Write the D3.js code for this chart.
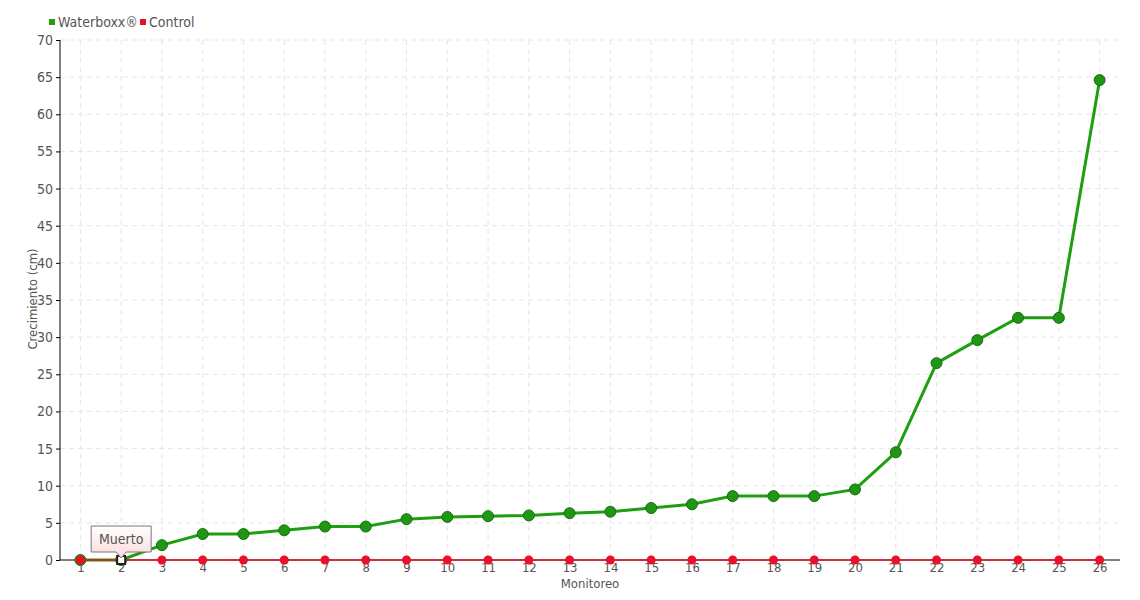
<!DOCTYPE html>
<html>
<head>
<meta charset="utf-8">
<script src="https://cdn.jsdelivr.net/npm/d3@7"></script>
<style>
  body { margin: 0; background: #fff; }
  svg text { font-family: "DejaVu Sans Condensed", "DejaVu Sans", sans-serif; font-stretch: condensed; fill: #555; }
</style>
</head>
<body>
<div id="content"></div>
<script>
// monitoreo 1..26
var monitoreo = d3.range(1, 27);
var waterboxx = [0, 0, 2, 3.5, 3.5, 4, 4.5, 4.5, 5.5, 5.8, 5.9, 6, 6.3, 6.5, 7, 7.5, 8.6, 8.6, 8.6, 9.5, 14.5, 26.5, 29.6, 32.6, 32.6, 64.6];
var control = [0, 0, 0, 0, 0, 0, 0, 0, 0, 0, 0, 0, 0, 0, 0, 0, 0, 0, 0, 0, 0, 0, 0, 0, 0, 0];
var yTicks = d3.range(0, 75, 5);
var tooltipIndex = 1;
var tooltipText = "Muerto";

var W = 1140, H = 600;
var margin = {left: 60, right: 20, top: 40, bottom: 40};

var svg = d3.select("#content").append("svg")
  .attr("width", W).attr("height", H);

var x = d3.scalePoint().domain(monitoreo)
  .range([margin.left, W - margin.right]).padding(0.5);
var y = d3.scaleLinear().domain([0, 70])
  .range([H - margin.bottom, margin.top]);

// grid
svg.append("g").selectAll("line").data(yTicks.slice(1)).join("line")
  .attr("x1", margin.left).attr("x2", W - margin.right)
  .attr("y1", d => y(d)).attr("y2", d => y(d))
  .style("stroke", "#e6e6e6").style("stroke-dasharray", "5,4");
svg.append("g").selectAll("line").data(monitoreo).join("line")
  .attr("x1", d => x(d)).attr("x2", d => x(d))
  .attr("y1", margin.top).attr("y2", H - margin.bottom)
  .style("stroke", "#e6e6e6").style("stroke-dasharray", "5,4");

// y axis
var yAxis = svg.append("g").attr("transform", "translate(" + margin.left + ",0)")
  .call(d3.axisLeft(y).tickValues(yTicks).tickSize(4).tickPadding(3));
yAxis.select(".domain").attr("d", "M0," + y(70) + "V" + y(0)).style("stroke", "#000");
yAxis.selectAll(".tick line").style("stroke", "#000").attr("x2", -4);
yAxis.selectAll(".tick text").style("font-size", "14px").style("fill", "#555");

// x axis
var xAxis = svg.append("g").attr("transform", "translate(0," + (H - margin.bottom) + ")")
  .call(d3.axisBottom(x).tickSize(0).tickPadding(3));
xAxis.select(".domain").attr("d", "M" + margin.left + ",0H" + (W - margin.right)).style("stroke", "#000");
xAxis.selectAll(".tick text").style("font-size", "13px").style("fill", "#555");

// titles
svg.append("text").attr("x", 590).attr("y", 588).attr("text-anchor", "middle")
  .style("font-size", "13px").text("Monitoreo");
svg.append("text").attr("transform", "translate(37,299) rotate(-90)").attr("text-anchor", "middle")
  .style("font-size", "13px").text("Crecimiento (cm)");

// waterboxx line
var line = d3.line().x((d, i) => x(monitoreo[i])).y(d => y(d));
svg.append("path").datum(waterboxx).attr("d", line)
  .style("fill", "none").style("stroke", "#1f9e12").style("stroke-width", 3);
svg.append("g").selectAll("circle").data(waterboxx).join("circle")
  .attr("cx", (d, i) => x(monitoreo[i])).attr("cy", d => y(d)).attr("r", 5.5)
  .style("fill", "#1f9614").style("stroke", "#17700e").style("stroke-width", 1);

// control line
svg.append("path").datum(control).attr("d", line)
  .style("fill", "none").style("stroke", "#e8102a").style("stroke-width", 1.5);
svg.append("g").selectAll("circle").data(control).join("circle")
  .attr("cx", (d, i) => x(monitoreo[i])).attr("cy", d => y(d)).attr("r", 4.5)
  .style("fill", "#e8102a");

// hovered marker
var hx = x(monitoreo[tooltipIndex]), hy = y(waterboxx[tooltipIndex]);
svg.append("rect").attr("x", hx - 4).attr("y", hy - 4).attr("width", 8).attr("height", 8)
  .style("fill", "#fff").style("stroke", "#222").style("stroke-width", 2);

// tooltip
var defs = svg.append("defs");
var grad = defs.append("linearGradient").attr("id", "tipGrad").attr("x1", 0).attr("y1", 0).attr("x2", 0).attr("y2", 1);
grad.append("stop").attr("offset", "0%").attr("stop-color", "#ffffff");
grad.append("stop").attr("offset", "100%").attr("stop-color", "#fcd9d9");
var tw = 60, th = 26, tx = hx - 30, ty = hy - 34;
svg.append("path")
  .attr("d", "M" + tx + "," + ty + "h" + tw + "v" + th + "h-" + (tw / 2 - 5) + "l-5,6l-5,-6h-" + (tw / 2 - 5) + "z")
  .style("fill", "url(#tipGrad)").style("stroke", "#777").style("stroke-width", 1);
svg.append("text").attr("x", tx + tw / 2).attr("y", ty + 18).attr("text-anchor", "middle")
  .style("font-size", "14px").text(tooltipText);

// legend
var legend = [{name: "Waterboxx®", color: "#1f9e12", x: 49}, {name: "Control", color: "#e8102a", x: 140}];
legend.forEach(function(l) {
  svg.append("rect").attr("x", l.x).attr("y", 19).attr("width", 6).attr("height", 6).style("fill", l.color);
  svg.append("text").attr("x", l.x + 9).attr("y", 27).style("font-size", "14px").text(l.name);
});
</script>
</body>
</html>
